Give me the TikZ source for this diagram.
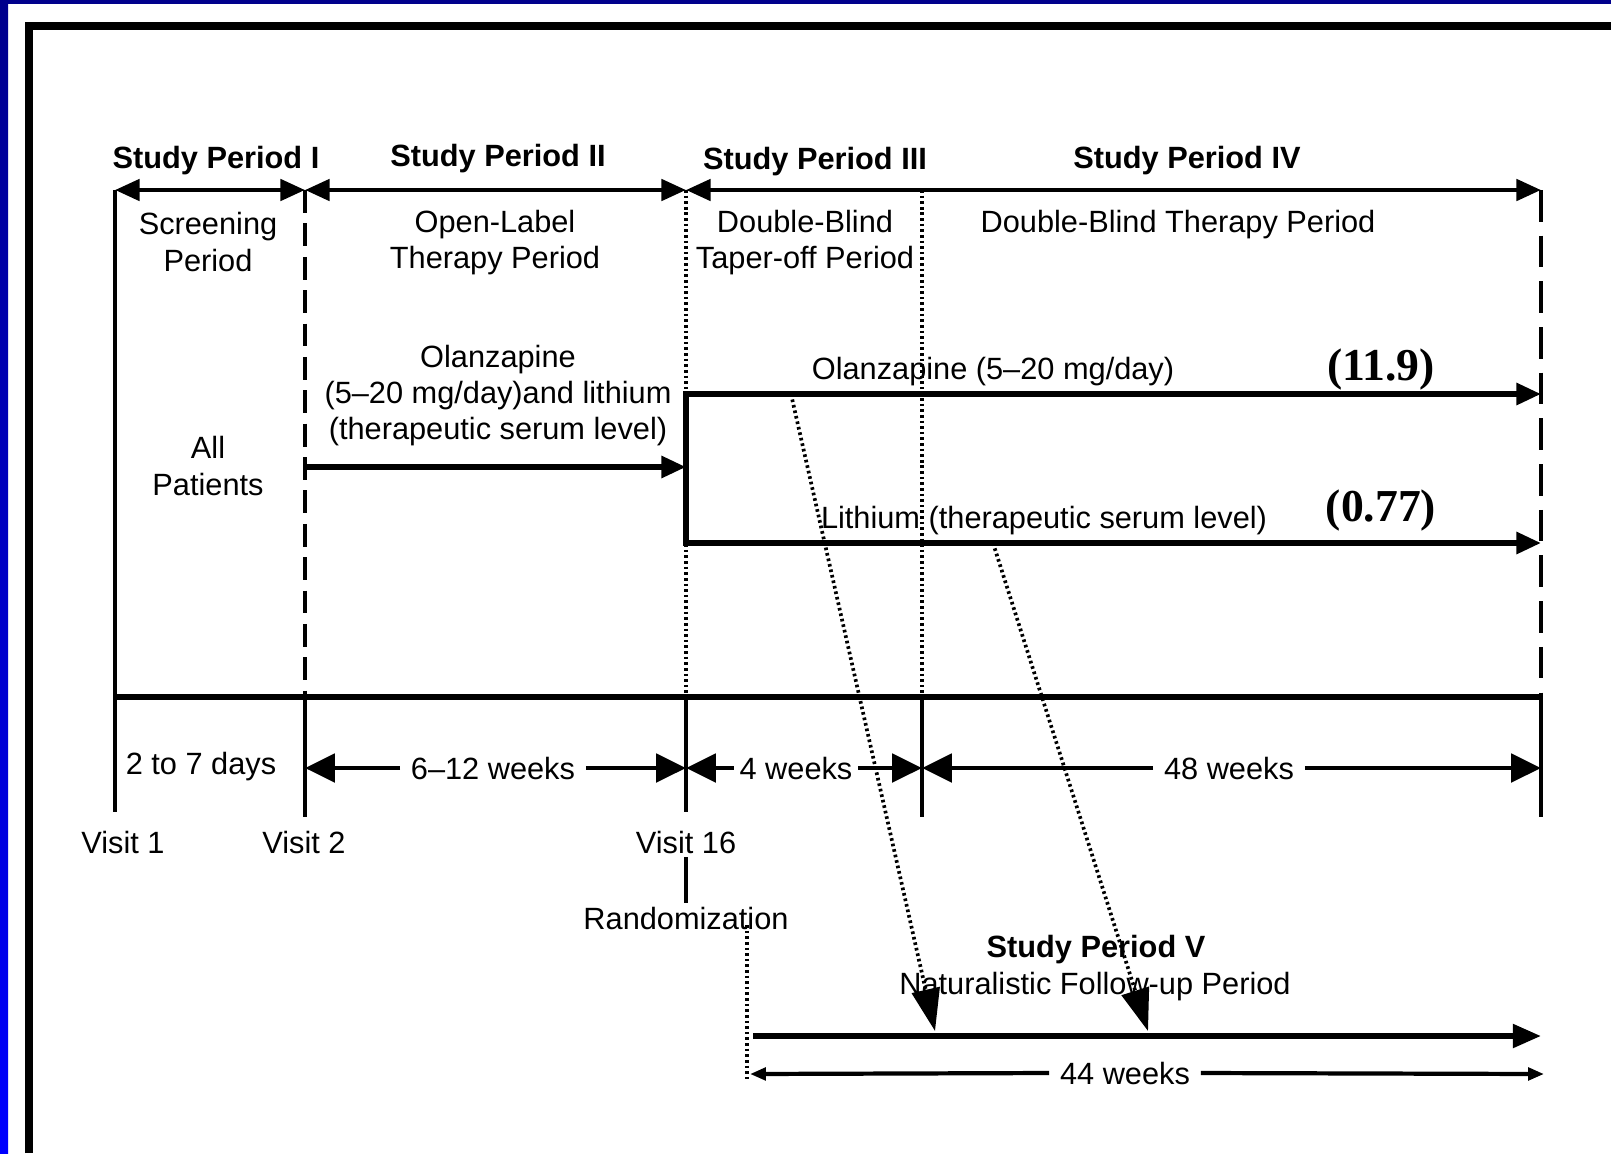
\documentclass[tikz,border=0pt]{standalone}
\usepackage{fontspec}
\setmainfont{Liberation Sans}
\newfontfamily\numfont{Liberation Serif}
\usepackage{xcolor}
\usepackage{tikz}
\usetikzlibrary{arrows.meta}
\definecolor{SPNavy}{HTML}{00008C}
\definecolor{SPBlue}{HTML}{0000FF}
\newcommand{\spfont}{\fontsize{17.5pt}{20.5pt}\selectfont}

\begin{document}
\begin{tikzpicture}[x=0.02cm,y=-0.02cm,
  every node/.style={font=\spfont,inner sep=2pt},
  heading/.style={font=\spfont\bfseries},
  figval/.style={font=\numfont\fontsize{26pt}{30pt}\selectfont\bfseries},
  durlabel/.style={inner sep=6pt},
  thinline/.style={line width=2.2pt},
  solidline/.style={line width=2.5pt},
  mainline/.style={line width=3.2pt},
  dashline/.style={line width=2.8pt,dash pattern=on 13pt off 6pt},
  dashedge/.style={line width=2.8pt,dash pattern=on 18pt off 8pt},
  dotline/.style={line width=2.1pt,dash pattern=on 1.5pt off 1.7pt},
  spanarrow/.style={line width=2.6pt,{Triangle[length=14pt,width=12pt]}-{Triangle[length=14pt,width=12pt]}},
  durhead/.style={line width=2.8pt,-{Triangle[length=17pt,width=16pt]}},
  drugarrow/.style={line width=3.2pt,-{Triangle[length=14pt,width=12pt]}},
  switcharrow/.style={dotline,-{Triangle[length=24pt,width=16pt]}},
  fuarrow/.style={line width=3.2pt,-{Triangle[length=16pt,width=13pt]}},
  weekarrow/.style={line width=2.4pt,-{Triangle[length=9pt,width=7pt]}}]
\path[use as bounding box] (0,0) rectangle (1611,1153);
% slide border
\fill[SPNavy] (0,0) rectangle (1611,4);
\shade[top color=SPNavy,bottom color=SPBlue] (0,0) rectangle (8,1153);
\draw[line width=4.5pt] (29,1153) -- (29,26) -- (1611,26);

% period borders
\coordinate (t1) at (115,190);
\coordinate (t2) at (305,190);
\coordinate (t3) at (686,190);
\coordinate (t4) at (922,190);
\coordinate (t5) at (1541,190);
\coordinate (b1) at (115,697);
\coordinate (b2) at (305,697);
\coordinate (b3) at (686,697);
\coordinate (b4) at (922,697);
\coordinate (b5) at (1541,697);
\coordinate (l1) at (115,812);
\coordinate (l2) at (305,817);
\coordinate (l3) at (686,812);
\coordinate (l4) at (922,817);
\coordinate (l5) at (1541,817);

\node[heading] (sp1) at (216,161) {Study Period I};
\node[heading] (sp2) at (498,159) {Study Period II};
\node[heading] (sp3) at (815,162) {Study Period III};
\node[heading] (sp4) at (1187,161) {Study Period IV};
\draw[spanarrow] (t1) -- (t2);
\draw[spanarrow] (t2) -- (t3);
\draw[spanarrow] (t3) -- (t5);

\draw[thinline] (t1) -- (l1);
\draw[dashline] (t2) -- (b2);
\draw[solidline] (b2) -- (l2);
\draw[dotline] (t3) -- (b3);
\draw[solidline] (b3) -- (l3);
\draw[dotline] (t4) -- (b4);
\draw[solidline] (b4) -- (l4);
\draw[dashedge] (t5) -- (b5);
\draw[solidline] (b5) -- (l5);
\draw[mainline] (b1) -- (b5);

\node[align=center] (scr) at (208,242) {Screening\\Period};
\node[align=center] (olab) at (495,243) {Open-Label\\Therapy Period};
\node[align=center] (dbt) at (805,243) {Double-Blind\\Taper-off Period};
\node (dbtp) at (1178,225) {Double-Blind Therapy Period};

% treatment arms
\node[align=center] (allp) at (208,466) {All\\Patients};
\node[align=center] (combo) at (498,396) {Olanzapine\\(5--20 mg/day)and lithium\\(therapeutic serum level)};
\coordinate (ra) at (305,467);
\coordinate (rx) at (686,467);
\coordinate (olz0) at (686,394);
\coordinate (olz1) at (1541,394);
\coordinate (li0) at (686,543);
\coordinate (li1) at (1541,543);
\draw[drugarrow] (ra) -- (rx);
\draw[mainline,line cap=rect] (olz0) -- (li0);
\draw[drugarrow] (olz0) -- (olz1);
\draw[drugarrow] (li0) -- (li1);
\node (olzl) at (993,372) {Olanzapine (5--20 mg/day)};
\node (lil) at (1044,521) {Lithium (therapeutic serum level)};
\node[figval] (olzv) at (1381,370) {(11.9)};
\node[figval] (liv) at (1381,511) {(0.77)};

% durations
\coordinate (m2) at (305,768);
\coordinate (m3) at (686,768);
\coordinate (m4) at (922,768);
\coordinate (m5) at (1541,768);
\node (d27) at (201,767) {2 to 7 days};
\node[durlabel] (d612) at (493,768) {6--12 weeks};
\node[inner sep=3pt] (d4) at (796,768) {4 weeks};
\node[durlabel] (d48) at (1229,768) {48 weeks};
\draw[durhead] (d612.west) -- (m2);
\draw[durhead] (d612.east) -- (m3);
\draw[durhead] (d4.west) -- (m3);
\draw[durhead] (d4.east) -- (m4);
\draw[durhead] (d48.west) -- (m4);
\draw[durhead] (d48.east) -- (m5);

\node (vis1) at (123,842) {Visit 1};
\node (vis2) at (304,842) {Visit 2};
\node (vis16) at (686,842) {Visit 16};
\node (rand) at (686,918) {Randomization};
\draw[solidline] (vis16.south) -- (rand.north);

% follow-up
\node[heading] (sp5) at (1096,950) {Study Period V};
\node (nfu) at (1095,987) {Naturalistic Follow-up Period};
\coordinate (fu0) at (753,1036);
\coordinate (fu1) at (1541,1036);
\draw[fuarrow] (fu0) -- (fu1);
\coordinate (rz0) at (747,925);
\coordinate (rz1) at (747,1082);
\draw[dotline] (rz0) -- (rz1);
\coordinate (n0) at (750,1074);
\coordinate (n1) at (1544,1074);
\node[durlabel] (d44) at (1125,1073) {44 weeks};
\draw[weekarrow] (d44.west) -- (n0);
\draw[weekarrow] (d44.east) -- (n1);
\coordinate (sw0) at (791,394);
\coordinate (sw1) at (935,1031);
\coordinate (sw2) at (993,543);
\coordinate (sw3) at (1148,1031);
\draw[switcharrow] (sw0) -- (sw1);
\draw[switcharrow] (sw2) -- (sw3);
\end{tikzpicture}
\end{document}
